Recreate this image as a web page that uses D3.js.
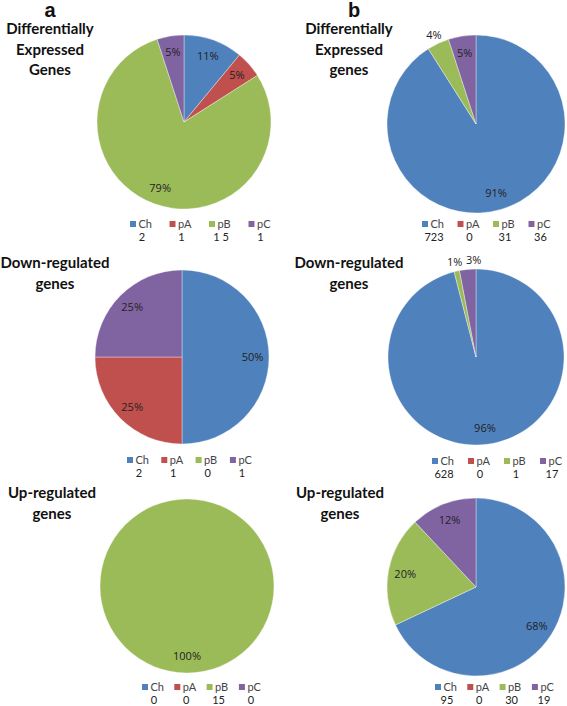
<!DOCTYPE html>
<html><head><meta charset="utf-8">
<script src="https://cdn.jsdelivr.net/npm/d3@7"></script>
<style>body{margin:0;background:#fff}svg{display:block}</style>
</head><body>
<script>
// ---- data ----
const categories = ["Ch", "pA", "pB", "pC"];
const colors = ["#4F81BD", "#C0504D", "#9BBB59", "#8064A2"];

const aAllPct = [11, 5, 79, 5];
const aAllCounts = ["2", "1", "1 5", "1"];
const bAllPct = [91, 0, 4, 5];
const bAllCounts = ["723", "0", "31", "36"];
const aDownPct = [50, 25, 0, 25];
const aDownCounts = ["2", "1", "0", "1"];
const bDownPct = [96, 0, 1, 3];
const bDownCounts = ["628", "0", "1", "17"];
const aUpPct = [0, 0, 100, 0];
const aUpCounts = ["0", "0", "15", "0"];
const bUpPct = [68, 0, 20, 12];
const bUpCounts = ["95", "0", "30", "19"];

const panelLetters = ["a", "b"];
const titlesAll = [["Differentially", "Expressed", "Genes"], ["Differentially", "Expressed", "genes"]];
const titlesDown = ["Down-regulated", "genes"];
const titlesUp = ["Up-regulated", "genes"];

// ---- layout ----
const W = 567, H = 706;
const svg = d3.select("body").append("svg").attr("width", W).attr("height", H);

const panels = [
  {pct: aAllPct, counts: aAllCounts, title: titlesAll[0], cx: 184, cy: 122, r: 87, tx: 50, ty: 34, lx: 130, lstep: 39.5, ly: 220},
  {pct: bAllPct, counts: bAllCounts, title: titlesAll[1], cx: 476, cy: 124, r: 89, tx: 349, ty: 34, lx: 422, lstep: 35.5, ly: 220},
  {pct: aDownPct, counts: aDownCounts, title: titlesDown, cx: 182, cy: 357, r: 87, tx: 55, ty: 268, lx: 127, lstep: 34.3, ly: 456},
  {pct: bDownPct, counts: bDownCounts, title: titlesDown, cx: 476, cy: 357, r: 88, tx: 349, ty: 268, lx: 432, lstep: 36, ly: 457},
  {pct: aUpPct, counts: aUpCounts, title: titlesUp, cx: 187, cy: 586, r: 87, tx: 52, ty: 498, lx: 142, lstep: 32.3, ly: 683},
  {pct: bUpPct, counts: bUpCounts, title: titlesUp, cx: 476, cy: 587, r: 89, tx: 340, ty: 498, lx: 435, lstep: 32.3, ly: 683}
];

// panel letters
panelLetters.forEach((l, i) => {
  svg.append("text").attr("x", i === 0 ? 50 : 354).attr("y", 17).attr("text-anchor", "middle")
    .attr("font-family", "Liberation Sans, Arial, sans-serif").attr("font-weight", "bold")
    .attr("font-size", 20).attr("fill", "#111").text(l);
});

const pie = d3.pie().sort(null).value(d => d);

panels.forEach(p => {
  const g = svg.append("g");
  // title
  p.title.forEach((t, i) => {
    g.append("text").attr("x", p.tx).attr("y", p.ty + i * 20.5)
      .attr("text-anchor", "middle")
      .attr("font-family", "Lato, sans-serif").attr("font-weight", "bold")
      .attr("font-size", 15).attr("fill", "#111").text(t);
  });

  const arcs = pie(p.pct);
  const arc = d3.arc().innerRadius(0).outerRadius(p.r);
  const pg = g.append("g").attr("transform", `translate(${p.cx},${p.cy})`);
  pg.selectAll("path").data(arcs.filter(a => a.value > 0)).join("path")
    .attr("d", arc)
    .attr("fill", d => colors[d.index])
    .attr("stroke", "#ffffff").attr("stroke-opacity", 0.6).attr("stroke-width", 0.6);

  // labels
  const inArc = d3.arc().innerRadius(p.r * 0.81).outerRadius(p.r * 0.81);
  const outArc = d3.arc().innerRadius(p.r * 1.11).outerRadius(p.r * 1.11);
  const labs = arcs.filter(a => a.value > 0).map(a => {
    const outside = a.value < 5;
    const c = (outside ? outArc : inArc).centroid(a);
    return {x: c[0], y: c[1], text: a.value + "%", outside};
  });
  for (let i = 1; i < labs.length; i++) {
    const a = labs[i - 1], b = labs[i];
    if (a.outside && b.outside && Math.abs(b.y - a.y) < 12 && b.x - a.x < 19) b.x = a.x + 19;
  }
  pg.selectAll("text.lab").data(labs).join("text").attr("class", "lab")
    .attr("x", d => d.x).attr("y", d => d.y + 4)
    .attr("text-anchor", "middle")
    .attr("font-family", "Open Sans, sans-serif").attr("font-size", 11)
    .attr("fill", "#222").text(d => d.text);

  // legend
  const lg = g.append("g");
  categories.forEach((c, i) => {
    const x = p.lx + i * p.lstep;
    lg.append("rect").attr("x", x).attr("y", p.ly + 1).attr("width", 6).attr("height", 6).attr("fill", colors[i]);
    lg.append("text").attr("x", x + 8.5).attr("y", p.ly + 8)
      .attr("font-family", "Lato, sans-serif").attr("font-size", 11).attr("fill", "#444").text(c);
    lg.append("text").attr("x", x + 12).attr("y", p.ly + 21.3)
      .attr("text-anchor", "middle")
      .attr("font-family", "Lato, sans-serif").attr("font-size", 11).attr("fill", "#222").text(p.counts[i]);
  });
});
</script>
</body></html>
